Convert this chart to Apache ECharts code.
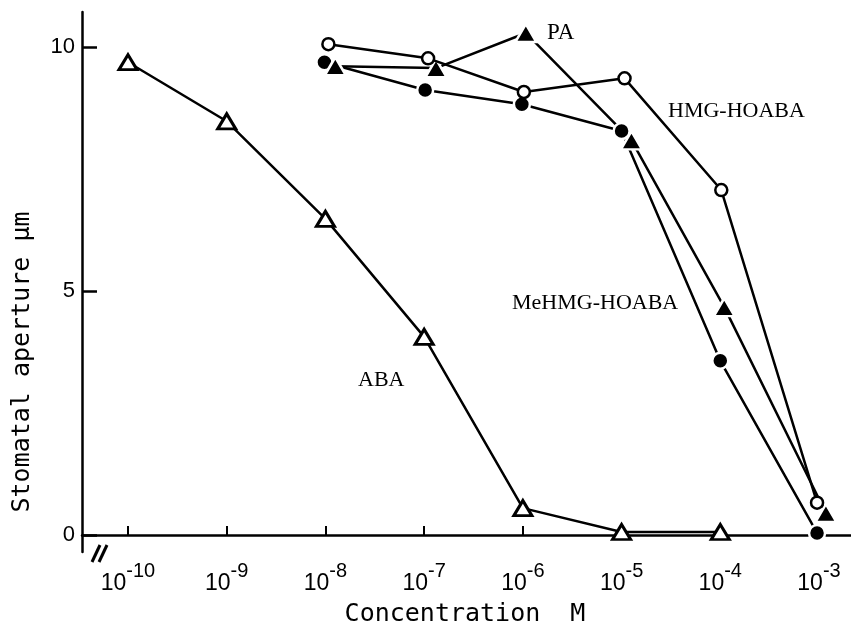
<!DOCTYPE html>
<html>
<head>
<meta charset="utf-8">
<script src="https://cdn.jsdelivr.net/npm/echarts@6/dist/echarts.min.js"></script>
<style>
html,body{margin:0;padding:0;background:#fff;}
#chart{width:851px;height:636px;}
</style>
</head>
<body>
<div id="chart"></div>
<script>
// log10(concentration M) and stomatal aperture (µm)
const abaX   = [-10, -9, -8, -7, -6, -5, -4];
const abaY   = [9.69, 8.48, 6.48, 4.06, 0.55, 0.06, 0.06];
const hmgX   = [-7.97, -6.96, -5.99, -4.97, -3.99, -3.02];
const hmgY   = [10.06, 9.77, 9.08, 9.36, 7.07, 0.66];
const mehmgX = [-8.01, -6.99, -6.01, -5.0, -4.0, -3.02];
const mehmgY = [9.69, 9.12, 8.83, 8.28, 3.57, 0.04];
const paX    = [-7.9, -6.88, -5.97, -4.9, -3.96, -2.93];
const paY    = [9.61, 9.57, 10.29, 8.09, 4.67, 0.45];
const xTicks = [-10, -9, -8, -7, -6, -5, -4, -3];
const yTicks = [0, 5, 10];

const zip = (xs, ys) => xs.map((x, i) => [x, ys[i]]);
const chart = echarts.init(document.getElementById('chart'));

const lineStyle = {color: '#000', width: 2.5};
const openItem = {color: '#fff', borderColor: '#000', borderWidth: 2.5};
const filledItem = {color: '#000', borderColor: '#fff', borderWidth: 2.5};

chart.setOption({
  backgroundColor: '#fff',
  animation: false,
  grid: {left: 82, right: 0, top: 12, bottom: 84},
  xAxis: {
    type: 'value',
    min: -10.466, max: -2.676,
    axisLine: {lineStyle: {color: '#000', width: 2.5}},
    axisTick: {inside: true, length: 9, customValues: xTicks, lineStyle: {color: '#000', width: 2}},
    splitLine: {show: false},
    axisLabel: {
      customValues: xTicks,
      margin: 9,
      formatter: v => '{b|10}{s|' + Math.round(v) + '}',
      rich: {
        b: {fontFamily: 'Liberation Sans', fontSize: 23, color: '#000', verticalAlign: 'bottom', lineHeight: 34},
        s: {fontFamily: 'Liberation Sans', fontSize: 20, color: '#000', verticalAlign: 'top', lineHeight: 34}
      }
    }
  },
  yAxis: {
    type: 'value',
    min: -0.35, max: 10.72,
    axisLine: {show: true, lineStyle: {color: '#000', width: 2.5}},
    axisTick: {show: true, inside: true, length: 15, customValues: yTicks, lineStyle: {color: '#000', width: 2.5}},
    splitLine: {show: false},
    axisLabel: {customValues: yTicks, margin: 7, fontFamily: 'Liberation Sans', fontSize: 22, color: '#000'}
  },
  series: [
    {type: 'line', name: 'ABA', data: zip(abaX, abaY), symbol: 'triangle', symbolSize: [18, 15],
     lineStyle, itemStyle: {color: '#fff', borderColor: '#000', borderWidth: 3}, z: 3},
    {type: 'line', name: 'HMG-HOABA', data: zip(hmgX, hmgY), symbol: 'circle', symbolSize: 12,
     lineStyle, itemStyle: openItem, z: 4},
    {type: 'line', name: 'MeHMG-HOABA', data: zip(mehmgX, mehmgY), symbol: 'circle', symbolSize: 16,
     lineStyle, itemStyle: filledItem, z: 3},
    {type: 'line', name: 'PA', data: zip(paX, paY), symbol: 'triangle', symbolSize: [21, 18],
     lineStyle, itemStyle: filledItem, z: 3}
  ],
  graphic: [
    {type: 'rect', shape: {x: 93, y: 548, width: 11, height: 8}, style: {fill: '#fff'}, z: 100},
    {type: 'line', shape: {x1: 92, y1: 562, x2: 100, y2: 545}, style: {stroke: '#000', lineWidth: 3}, z: 101},
    {type: 'line', shape: {x1: 99, y1: 562, x2: 107, y2: 545}, style: {stroke: '#000', lineWidth: 3}, z: 101},
    {type: 'text', x: 22, y: 362, rotation: Math.PI / 2,
     style: {text: 'Stomatal aperture μm', fontFamily: 'DejaVu Sans Mono', fontSize: 25, fill: '#000', align: 'center', verticalAlign: 'middle'}},
    {type: 'text', x: 465, y: 614,
     style: {text: 'Concentration  M', fontFamily: 'DejaVu Sans Mono', fontSize: 25, fill: '#000', align: 'center', verticalAlign: 'middle'}},
    {type: 'text', x: 547, y: 33, style: {text: 'PA', fontFamily: 'Liberation Serif', fontSize: 23, fill: '#000', align: 'left', verticalAlign: 'middle'}},
    {type: 'text', x: 668, y: 111, style: {text: 'HMG-HOABA', fontFamily: 'Liberation Serif', fontSize: 22, fill: '#000', align: 'left', verticalAlign: 'middle'}},
    {type: 'text', x: 512, y: 303, style: {text: 'MeHMG-HOABA', fontFamily: 'Liberation Serif', fontSize: 22, fill: '#000', align: 'left', verticalAlign: 'middle'}},
    {type: 'text', x: 358, y: 380, style: {text: 'ABA', fontFamily: 'Liberation Serif', fontSize: 22, fill: '#000', align: 'left', verticalAlign: 'middle'}}
  ]
});
</script>
</body>
</html>
